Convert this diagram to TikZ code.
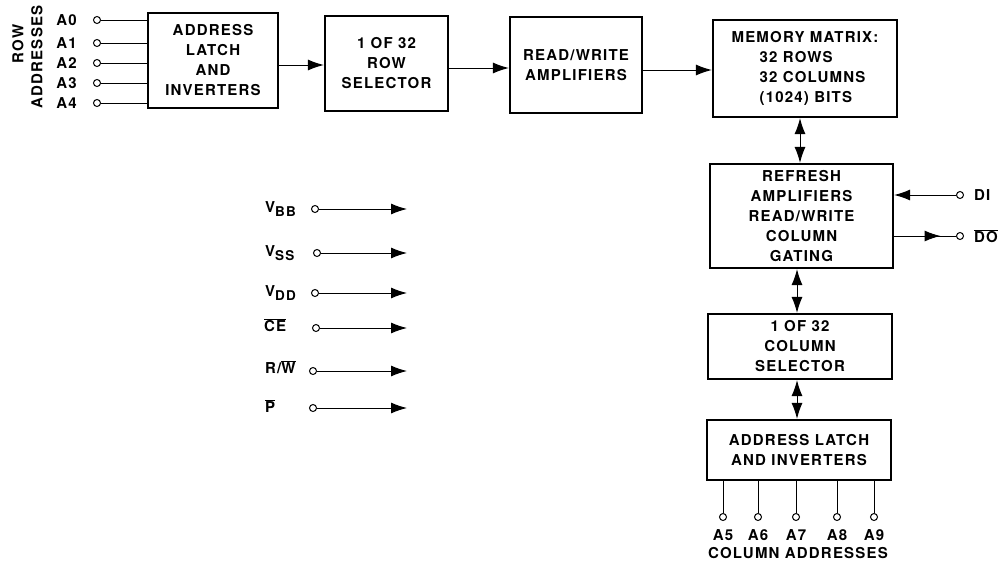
\documentclass[tikz,border=0pt]{standalone}
\usepackage{fontspec}
\setmainfont{TeX Gyre Heros}[LetterSpace=8]
\usepackage{tikz}
\usetikzlibrary{positioning,arrows.meta,calc,decorations.markings}

\newcommand{\vsub}[1]{V\raisebox{-4pt}{\fontsize{13.5}{13.5}\selectfont #1}}
\newcommand{\ovl}[1]{$\overline{\hbox{#1}}$}

\begin{document}
\begin{tikzpicture}[
    x=1pt, y=-1pt,
    font=\fontsize{15}{20}\selectfont\bfseries,
    block/.style={rectangle, draw, line width=2.2pt, align=center, inner sep=2pt},
    terminal/.style={circle, draw, line width=1pt, inner sep=0pt, minimum size=7pt, fill=white},
    wire/.style={line width=1pt},
    arrow/.style={-{Latex[length=16pt,width=11pt]}, line width=1pt},
    dblarrow/.style={{Latex[length=16pt,width=11pt]}-{Latex[length=16pt,width=11pt]}, line width=1pt},
    midtip/.style={postaction={decorate}, decoration={markings,
                   mark=at position 0.75 with {\arrow{Latex[length=16pt,width=11pt]}}}},
    plabel/.style={inner sep=0pt}
]
\useasboundingbox (0,0) rectangle (1001,562);

% row path
\node[block, minimum width=130, minimum height=95] (rowlatch) at (213,60.5) {ADDRESS\\LATCH\\AND\\INVERTERS};
\node[block, minimum width=123, minimum height=95] (rowsel)   at (386.5,63.5) {1 OF 32\\ROW\\SELECTOR};
\node[block, minimum width=132, minimum height=96] (rwamp)    at (576,65) {READ/WRITE\\AMPLIFIERS};
\node[block, minimum width=184, minimum height=97, align=left] (memmat) at (805,68.5)
     {MEMORY MATRIX:\\\hspace*{28pt}32 ROWS\\\hspace*{28pt}32 COLUMNS\\\hspace*{28pt}(1024) BITS};

\draw[arrow] ([yshift=-4.5]rowlatch.east) -- ([yshift=-4.5]rowlatch.east -| rowsel.west);
\draw[arrow] ([yshift=-4.5]rowsel.east) -- ([yshift=-4.5]rowsel.east -| rwamp.west);
\draw[arrow] ([yshift=-5]rwamp.east) -- ([yshift=-5]rwamp.east -| memmat.west);

% column path
\node[block, minimum width=183, minimum height=104] (refresh)  at (801.5,216) {REFRESH\\AMPLIFIERS\\READ/WRITE\\COLUMN\\GATING};
\node[block, minimum width=184, minimum height=65]  (colsel)   at (800,346.5) {1 OF 32\\COLUMN\\SELECTOR};
\node[block, minimum width=184, minimum height=60]  (collatch) at (799,450) {ADDRESS LATCH\\AND INVERTERS};

\draw[dblarrow] ([xshift=-1.5]refresh.north) -- ([xshift=-1.5]refresh.north |- memmat.south);
\draw[dblarrow] ([xshift=-3]colsel.north) -- ([xshift=-3]colsel.north |- refresh.south);
\draw[dblarrow] ([xshift=-2]collatch.north) -- ([xshift=-2]collatch.north |- colsel.south);

% row address inputs
\node[rotate=90] (rowtxt)  at (18,44) {ROW};
\node[rotate=90] (addrtxt) at (37,57) {ADDRESSES};

\node[terminal] (a0) at (97,20) {};
\node[terminal] (a1) at (97,43) {};
\node[terminal] (a2) at (97,63) {};
\node[terminal] (a3) at (97,83) {};
\node[terminal] (a4) at (97,103) {};
\node[plabel, left=16pt of a0] {A0};
\node[plabel, left=16pt of a1] {A1};
\node[plabel, left=16pt of a2] {A2};
\node[plabel, left=16pt of a3] {A3};
\node[plabel, left=16pt of a4] {A4};
\draw[wire] (a0) -- (a0 -| rowlatch.west);
\draw[wire] (a1) -- (a1 -| rowlatch.west);
\draw[wire] (a2) -- (a2 -| rowlatch.west);
\draw[wire] (a3) -- (a3 -| rowlatch.west);
\draw[wire] (a4) -- (a4 -| rowlatch.west);

% supply and control pins
\coordinate (sigend) at (407,0);
\node[terminal] (vbb) at (315,209) {};
\node[terminal] (vss) at (317,253) {};
\node[terminal] (vdd) at (315,293) {};
\node[terminal] (ce)  at (316,328) {};
\node[terminal] (rw)  at (313,371) {};
\node[terminal] (pp)  at (313,408) {};
\node[plabel, anchor=west] (vbbtxt) at (265,209) {\vsub{BB}};
\node[plabel, anchor=west] (vsstxt) at (265,253) {\vsub{SS}};
\node[plabel, anchor=west] (vddtxt) at (265,293) {\vsub{DD}};
\node[plabel, anchor=west] (cetxt)  at (264,325) {\ovl{CE}};
\node[plabel, anchor=west] (rwtxt)  at (265,367) {R/\ovl{W}};
\node[plabel, anchor=west] (pptxt)  at (265,406) {\ovl{P}};
\draw[arrow] (vbb) -- (vbb -| sigend);
\draw[arrow] (vss) -- (vss -| sigend);
\draw[arrow] (vdd) -- (vdd -| sigend);
\draw[arrow] (ce)  -- (ce -| sigend);
\draw[arrow] (rw)  -- (rw -| sigend);
\draw[arrow] (pp)  -- (pp -| sigend);

% data in / out
\node[terminal] (din)  at (960,195) {};
\node[terminal] (dout) at (960,236) {};
\node[plabel, right=10pt of din]  {DI};
\node[plabel, right=10pt of dout] {\ovl{DO}};
\draw[arrow] (din) -- (din -| refresh.east);
\draw[wire, midtip] (dout -| refresh.east) -- (dout);

% column address inputs
\node[terminal] (a5) at (723,517) {};
\node[terminal] (a6) at (758,517) {};
\node[terminal] (a7) at (796,517) {};
\node[terminal] (a8) at (837,517) {};
\node[terminal] (a9) at (874,517) {};
\node[plabel, below=8pt of a5] {A5};
\node[plabel, below=8pt of a6] {A6};
\node[plabel, below=8pt of a7] {A7};
\node[plabel, below=8pt of a8] {A8};
\node[plabel, below=8pt of a9] {A9};
\draw[wire] (a5) -- (a5 |- collatch.south);
\draw[wire] (a6) -- (a6 |- collatch.south);
\draw[wire] (a7) -- (a7 |- collatch.south);
\draw[wire] (a8) -- (a8 |- collatch.south);
\draw[wire] (a9) -- (a9 |- collatch.south);
\node[plabel] (coltxt) at (798,553) {COLUMN ADDRESSES};

\end{tikzpicture}
\end{document}
